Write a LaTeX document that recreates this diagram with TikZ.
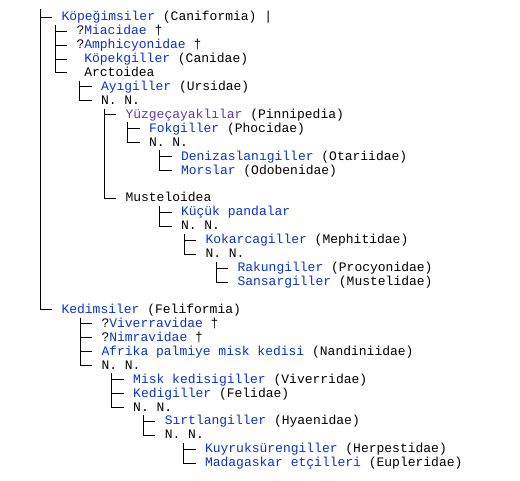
\documentclass[tikz,border=0pt]{standalone}
\usepackage{fontspec}
\setmainfont{Liberation Mono}
\definecolor{lnk}{RGB}{8,52,204}
\definecolor{vis}{RGB}{96,60,160}
\newcommand\lk[1]{\textcolor{lnk}{#1}}
\newcommand\vl[1]{\textcolor{vis}{#1}}
\newcommand\ly[1]{17.2+13.94*#1}
\newcommand\clbranch[3]{\draw[conn] ([xshift=#2pt]#1.south west) |- (#3.west);}
\begin{document}
\begin{tikzpicture}[x=1pt,y=-1pt,
  tx/.style={anchor=west,inner xsep=9.3pt,inner ysep=0pt,text height=11pt,text depth=4pt,font=\fontsize{13}{15}\selectfont},
  conn/.style={draw=black,line width=1pt}]
\useasboundingbox[fill=white] (0,0) rectangle (520,480);
\coordinate (top) at (40,9);
% Caniformia
\node[tx] (cani)  at (52,{\ly{0}})  {\lk{Köpeğimsiler} (Caniformia) |};
\node[tx] (mia)   at (67,{\ly{1}})  {?\lk{Miacidae} †};
\node[tx] (amph)  at (67,{\ly{2}})  {?\lk{Amphicyonidae} †};
\node[tx] (canid) at (67,{\ly{3}})  {\ \lk{Köpekgiller} (Canidae)};
\node[tx] (arct)  at (67,{\ly{4}})  {\ Arctoidea};
\node[tx] (urs)   at (91.5,{\ly{5}}) {\lk{Ayıgiller} (Ursidae)};
\node[tx] (nna)   at (91.5,{\ly{6}}) {N. N.};
\node[tx] (pinn)  at (116,{\ly{7}}) {\vl{Yüzgeçayaklılar} (Pinnipedia)};
\node[tx] (phoc)  at (139.5,{\ly{8}}) {\lk{Fokgiller} (Phocidae)};
\node[tx] (nnb)   at (139.5,{\ly{9}}) {N. N.};
\node[tx] (otar)  at (171.5,{\ly{10}}) {\lk{Denizaslanıgiller} (Otariidae)};
\node[tx] (odob)  at (171.5,{\ly{11}}) {\lk{Morslar} (Odobenidae)};
\node[tx] (must)  at (116,{\ly{13}}) {Musteloidea};
\node[tx] (ail)   at (171.5,{\ly{14}}) {\lk{Küçük pandalar}};
\node[tx] (nnc)   at (171.5,{\ly{15}}) {N. N.};
\node[tx] (meph)  at (196,{\ly{16}}) {\lk{Kokarcagiller} (Mephitidae)};
\node[tx] (nnd)   at (196,{\ly{17}}) {N. N.};
\node[tx] (proc)  at (228,{\ly{18}}) {\lk{Rakungiller} (Procyonidae)};
\node[tx] (mustd) at (228,{\ly{19}}) {\lk{Sansargiller} (Mustelidae)};
% Feliformia
\node[tx] (feli)  at (52,{\ly{21}}) {\lk{Kedimsiler} (Feliformia)};
\node[tx] (viv)   at (92,{\ly{22}}) {?\lk{Viverravidae} †};
\node[tx] (nimr)  at (92,{\ly{23}}) {?\lk{Nimravidae} †};
\node[tx] (nand)  at (92,{\ly{24}}) {\lk{Afrika palmiye misk kedisi} (Nandiniidae)};
\node[tx] (nne)   at (92,{\ly{25}}) {N. N.};
\node[tx] (viverr) at (123.7,{\ly{26}}) {\lk{Misk kedisigiller} (Viverridae)};
\node[tx] (felid) at (123.7,{\ly{27}}) {\lk{Kedigiller} (Felidae)};
\node[tx] (nnf)   at (123.7,{\ly{28}}) {N. N.};
\node[tx] (hyae)  at (155.3,{\ly{29}}) {\lk{Sırtlangiller} (Hyaenidae)};
\node[tx] (nng)   at (155.3,{\ly{30}}) {N. N.};
\node[tx] (herp)  at (195.5,{\ly{31}}) {\lk{Kuyruksürengiller} (Herpestidae)};
\node[tx] (eupl)  at (195.5,{\ly{32}}) {\lk{Madagaskar etçilleri} (Eupleridae)};
% connectors
\draw[conn] (top) |- (cani.west);
\draw[conn] (top) |- (feli.west);
\clbranch{cani}{3}{mia}
\clbranch{cani}{3}{amph}
\clbranch{cani}{3}{canid}
\clbranch{cani}{3}{arct}
\clbranch{arct}{12.5}{urs}
\clbranch{arct}{12.5}{nna}
\clbranch{nna}{12.5}{pinn}
\clbranch{nna}{12.5}{must}
\clbranch{pinn}{11.5}{phoc}
\clbranch{pinn}{11.5}{nnb}
\clbranch{nnb}{20}{otar}
\clbranch{nnb}{20}{odob}
\clbranch{must}{43.5}{ail}
\clbranch{must}{43.5}{nnc}
\clbranch{nnc}{12.5}{meph}
\clbranch{nnc}{12.5}{nnd}
\clbranch{nnd}{20}{proc}
\clbranch{nnd}{20}{mustd}
\clbranch{feli}{28}{viv}
\clbranch{feli}{28}{nimr}
\clbranch{feli}{28}{nand}
\clbranch{feli}{28}{nne}
\clbranch{nne}{19.7}{viverr}
\clbranch{nne}{19.7}{felid}
\clbranch{nne}{19.7}{nnf}
\clbranch{nnf}{19.6}{hyae}
\clbranch{nnf}{19.6}{nng}
\clbranch{nng}{28.2}{herp}
\clbranch{nng}{28.2}{eupl}
\end{tikzpicture}
\end{document}
